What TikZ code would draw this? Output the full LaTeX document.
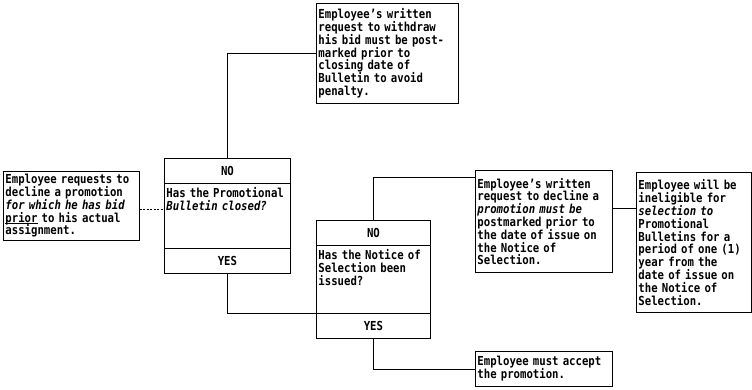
\documentclass[tikz,border=0pt]{standalone}
\usepackage{fontspec}
\setmonofont[FakeStretch=0.86,
  BoldFont={DejaVu Sans Mono Bold},
  ItalicFont={DejaVu Sans Mono Oblique},
  BoldItalicFont={DejaVu Sans Mono Bold Oblique}]{DejaVu Sans Mono}
\usetikzlibrary{calc}
\newcommand\myul[1]{\leavevmode\mbox{\setbox0\hbox{#1}\rlap{\rule[-1.8pt]{\wd0}{0.7pt}}\box0}}
\begin{document}
\begin{tikzpicture}[x=1pt,y=-1pt, line width=0.9pt,
  txt/.style={font=\ttfamily\bfseries\fontsize{12.4}{12.8}\selectfont, align=left, inner sep=2pt},
  box/.style={txt, draw, anchor=north west, inner xsep=2pt, inner ysep=2pt},
  dbox/.style={draw, anchor=north west, inner sep=0pt},
  qtext/.style={txt, anchor=north west, text width=130pt},
  dashlink/.style={line width=0.6pt, dash pattern=on 2pt off 1.5pt}
]
\useasboundingbox (0,0) rectangle (752,390);

% plain boxes
\node[box, text width=132pt, minimum height=69pt] (b1) at (3,171)
  {Employee requests to\\decline a promotion\\\textit{for which he has bid}\\\myul{prior} to his actual\\assignment.};
\node[box, text width=138pt, minimum height=100pt] (t) at (316,3)
  {Employee’s written\\request to withdraw\\his bid must be post-\\marked prior to\\closing date of\\Bulletin to avoid\\penalty.};
\node[box, text width=133pt, minimum height=102pt] (b5) at (475,170)
  {Employee’s written\\request to decline a\\\textit{promotion must be}\\postmarked prior to\\the date of issue on\\the Notice of\\Selection.};
\node[box, text width=133pt, minimum height=35pt] (b6) at (475,351)
  {Employee must accept\\the promotion.};
\node[box, text width=111pt, minimum height=140pt] (b7) at (636,172)
  {Employee will be\\ineligible for\\\textit{selection to}\\Promotional\\Bulletins for a\\period of one (1)\\year from the\\date of issue on\\the Notice of\\Selection.};

% decision box 1
\node[dbox, minimum width=126pt, minimum height=115pt] (d1) at (164,158) {};
\draw ($(d1.north west)+(0,25)$) -- ($(d1.north east)+(0,25)$);
\draw ($(d1.south west)+(0,-25)$) -- ($(d1.south east)+(0,-25)$);
\node[txt] (d1no) at ($(d1.north)+(0,12.5)$) {NO};
\node[txt] (d1yes) at ($(d1.south)+(0,-12.5)$) {YES};
\node[qtext] (d1q) at ($(d1.north west)+(0,27)$) {Has the Promotional\\\textit{Bulletin closed?}};

% decision box 2
\node[dbox, minimum width=114pt, minimum height=118pt] (d2) at (316,220) {};
\draw ($(d2.north west)+(0,25)$) -- ($(d2.north east)+(0,25)$);
\draw ($(d2.south west)+(0,-25)$) -- ($(d2.south east)+(0,-25)$);
\node[txt] (d2no) at ($(d2.north)+(0,12.5)$) {NO};
\node[txt] (d2yes) at ($(d2.south)+(0,-12.5)$) {YES};
\node[qtext] (d2q) at ($(d2.north west)+(0,27)$) {Has the Notice of\\Selection been\\issued?};

% connectors
\coordinate (dIn) at (164,209);
\draw[dashlink] (b1.east |- dIn) -- (dIn);
\draw (d1.north) |- (t.west);
\coordinate (d2L) at ($(d2.south west)+(0,-25)$);
\draw (d1.south) |- (d2L);
\coordinate (b5In) at (475,177);
\draw (d2.north) |- (b5In);
\draw (d2.south) |- (b6.west);
\coordinate (b7In) at (636,208);
\draw (b7In -| b5.east) -- (b7In);
\end{tikzpicture}
\end{document}
